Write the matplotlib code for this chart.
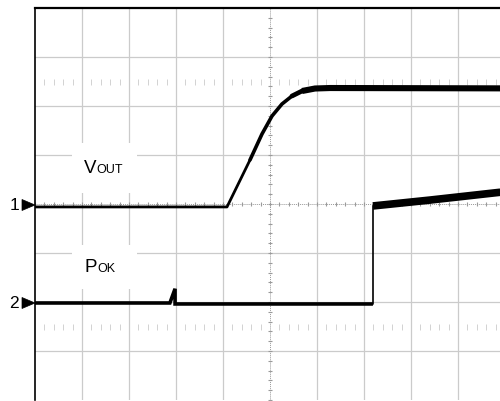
import numpy as np
import matplotlib
matplotlib.use("Agg")
import matplotlib.pyplot as plt
from matplotlib.patches import Rectangle, Polygon

plt.rcParams['font.family'] = ['Liberation Sans', 'DejaVu Sans']

# ---- data (time in divisions, level in divisions) ----
vout_t = [0.0, 4.085, 4.574, 4.830, 5.043, 5.255, 5.468, 5.681, 5.957, 6.277, 9.90]
vout_v = [3.94, 3.94, 4.898, 5.429, 5.796, 6.041, 6.204, 6.306, 6.357, 6.367, 6.36]

pok_t = [0.0, 2.87, 2.98, 2.98, 7.19, 7.19, 8.40, 9.90]
pok_v = [1.98, 1.98, 2.27, 1.96, 1.96, 3.96, 4.08, 4.24]

ch_markers = ['1', '2']
ch_levels = [4.0, 2.0]

W, H = 500, 401
fig = plt.figure(figsize=(W / 100, H / 100), dpi=100)
ax = fig.add_axes([35 / W, 1 / H, 465 / W, 392 / H])
XMAX = 465 / 47
ax.set_xlim(0, XMAX)
ax.set_ylim(0, 8)
ax.set_xticks([])
ax.set_yticks([])
for s in ['right', 'bottom']:
    ax.spines[s].set_visible(False)
ax.spines['top'].set_linewidth(1.6)
ax.spines['left'].set_linewidth(1.2)

gc = '#cbcbcb'
# major grid
for x in range(1, 11):
    if x == 5:
        continue
    ax.axvline(x, color=gc, lw=0.9, zorder=1)
for y in range(1, 8):
    if y == 4:
        continue
    ax.axhline(y, color=gc, lw=0.9, zorder=1)

# center lines with minor ticks
cc = '#9a9a9a'
ax.axvline(5, color=cc, lw=0.7, ls=(0, (1, 1)), zorder=1)
ax.axhline(4, color=cc, lw=0.7, ls=(0, (1, 1)), zorder=1)
minor_y = np.arange(0, 8.01, 0.2)
minor_x = np.arange(0, 10.01, 0.2)
ax.plot(np.full_like(minor_y, 5.0), minor_y, ls='none', marker='_', ms=3.5,
        mew=0.8, color=cc, zorder=1)
ax.plot(minor_x, np.full_like(minor_x, 4.0), ls='none', marker='|', ms=3.5,
        mew=0.8, color=cc, zorder=1)

# dashed tick rows
row_x = [x for x in minor_x if abs(x - round(x)) > 0.05]
for yy in (6.5, 1.5):
    ax.plot(row_x, [yy] * len(row_x), ls='none', marker='|', ms=4.5,
            mew=0.7, color='#d2d2d2', zorder=1)

# white label boxes
ax.add_patch(Rectangle((0.79, 4.22), 1.38, 1.02, facecolor='white',
                       edgecolor='none', zorder=2))
ax.add_patch(Rectangle((0.79, 2.27), 1.38, 0.89, facecolor='white',
                       edgecolor='none', zorder=2))

# traces
k = 'black'
# VOUT: low level, ramp, then noisier (thicker) high level
ax.plot(vout_t[:3], vout_v[:3], color=k, lw=2.0, zorder=4,
        solid_joinstyle='round', solid_capstyle='butt')
ax.plot(vout_t[2:7], vout_v[2:7], color=k, lw=2.6, zorder=4,
        solid_joinstyle='round', solid_capstyle='round')
ax.plot(vout_t[6:8], vout_v[6:8], color=k, lw=3.4, zorder=4,
        solid_joinstyle='round', solid_capstyle='round')
ax.plot(vout_t[7:], vout_v[7:], color=k, lw=4.4, zorder=4,
        solid_joinstyle='round', solid_capstyle='butt')
# POK
ax.plot(pok_t[:5], pok_v[:5], color=k, lw=2.6, zorder=4,
        solid_joinstyle='miter', solid_capstyle='butt')
ax.plot(pok_t[3:6], pok_v[3:6], color=k, lw=1.2, zorder=4)
ax.plot(pok_t[5:], pok_v[5:], color=k, lw=5.5, zorder=4,
        solid_capstyle='butt')

# labels
ax.text(1.04, 4.63, 'V', fontsize=13.5, ha='left', va='baseline', zorder=5)
ax.text(1.30, 4.63, 'OUT', fontsize=9, ha='left', va='baseline', zorder=5)
ax.text(1.06, 2.61, 'P', fontsize=13.5, ha='left', va='baseline', zorder=5)
ax.text(1.32, 2.61, 'OK', fontsize=9, ha='left', va='baseline', zorder=5)

# channel markers
for lab, lvl in zip(ch_markers, ch_levels):
    py = 400 - lvl * 49 + 1  # pixel from top
    fy = (H - py) / H
    tri = Polygon([(22 / W, fy + 5.5 / H), (22 / W, fy - 5.5 / H),
                   (35 / W, fy)], closed=True, transform=fig.transFigure,
                  facecolor='black', edgecolor='black', lw=0.5)
    fig.patches.append(tri)
    fig.text(19 / W, fy, lab, fontsize=12.5, ha='right', va='center')

fig.savefig('out.png', dpi=100)
